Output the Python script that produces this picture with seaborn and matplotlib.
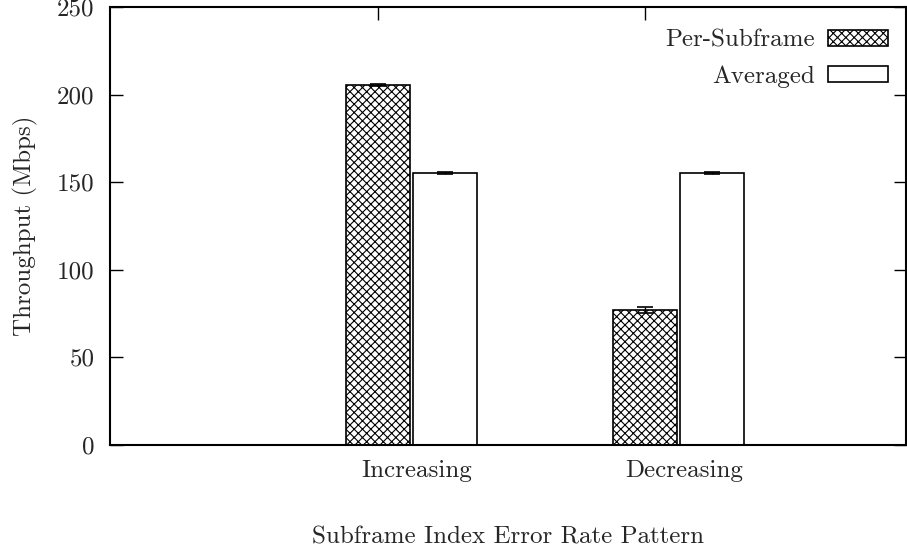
import matplotlib
matplotlib.use("Agg")
import matplotlib.pyplot as plt
import seaborn as sns
import pandas as pd

patterns = ["Increasing", "Decreasing"]
series = ["Per-Subframe", "Averaged"]
per_subframe = [205.5, 77.0]
averaged = [155.3, 155.3]
per_subframe_err = [0.6, 1.5]
averaged_err = [0.6, 0.6]
yticks = [0, 50, 100, 150, 200, 250]

sns.set_theme(style="white")
plt.rcParams["font.family"] = ["cmr10", "DejaVu Serif"]
plt.rcParams["mathtext.fontset"] = "cm"
plt.rcParams["axes.formatter.use_mathtext"] = True
plt.rcParams["hatch.linewidth"] = 0.8
plt.rcParams["hatch.color"] = "black"

FS = 18

df = pd.DataFrame({
    "pattern": patterns * 2,
    "series": [series[0]] * len(patterns) + [series[1]] * len(patterns),
    "value": per_subframe + averaged,
})

fig = plt.figure(figsize=(9.07, 5.52), dpi=100)
ax = fig.add_axes([0.1213, 0.194, 0.8776, 0.7933])
sns.barplot(data=df, x="pattern", y="value", hue="series", order=patterns,
            hue_order=series, width=0.5, gap=0.04, errorbar=None,
            palette=["white", "white"], edgecolor="black", linewidth=1.2,
            saturation=1, ax=ax, legend=False)

for bar in ax.containers[0]:
    bar.set_hatch("xxxx")

for cont, vals, errs in zip(ax.containers, [per_subframe, averaged],
                            [per_subframe_err, averaged_err]):
    xs = [p.get_x() + p.get_width() / 2 for p in cont]
    ax.errorbar(xs, vals, yerr=errs, fmt="none", ecolor="black",
                elinewidth=1.0, capsize=5.5, capthick=1.2, zorder=5)

ax.set_ylim(0, 250)
ax.set_yticks(yticks)
ax.set_yticklabels([str(v) for v in yticks], fontsize=FS)
ax.set_xlim(-1.129, 1.852)
ax.set_xticks([-0.125, 0.875])
ax.set_xticklabels([])
ax.set_xticks([0.02, 1.02], minor=True)
ax.set_xticklabels(patterns, minor=True, fontsize=FS)
ax.tick_params(axis="x", which="minor", length=0, pad=11)
ax.tick_params(axis="x", which="major", direction="in", length=9, width=1,
               top=True, bottom=True, color="black")
ax.tick_params(axis="y", direction="in", length=9, width=1, left=True,
               right=True, pad=11, color="black")

for s in ax.spines.values():
    s.set_color("black")
    s.set_linewidth(1.5)

ax.set_xlabel("Subframe Index Error Rate Pattern", fontsize=FS, labelpad=32)
ax.set_ylabel("Throughput (Mbps)", fontsize=FS, labelpad=14)

handles = [ax.containers[0][0], ax.containers[1][0]]
ax.legend(handles, series, loc="upper right", bbox_to_anchor=(0.977, 0.948),
          frameon=False, markerfirst=False, fontsize=FS, handlelength=2.4,
          handleheight=0.65, handletextpad=0.5, labelspacing=0.54,
          borderaxespad=0, borderpad=0)

fig.savefig("out.png", dpi=100)
